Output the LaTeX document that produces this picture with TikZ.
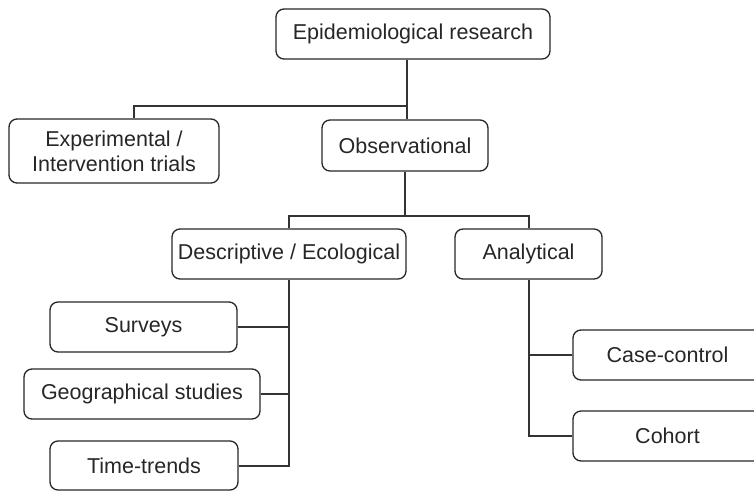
\documentclass[tikz,border=0pt]{standalone}
\usepackage{fontspec}
\setmainfont{Liberation Sans}
\begin{document}
\begin{tikzpicture}[x=1pt,y=-1pt,
  box/.style={draw=black!85, line width=1.3pt, rounded corners=8pt, align=center,
    text=black!85, inner sep=0pt, font=\fontsize{21.5}{25}\selectfont},
  link/.style={draw=black!80, line width=1.3pt}]
\useasboundingbox (0,0) rectangle (754,490);
\clip (0,0) rectangle (754,490);
\node[box, minimum width=274pt, minimum height=50pt] (epi) at (413,34) {Epidemiological research};
\node[box, minimum width=210pt, minimum height=64pt] (exp) at (114,151) {Experimental /\\Intervention trials};
\node[box, minimum width=166pt, minimum height=51pt] (obs) at (405,145.5) {Observational};
\node[box, minimum width=234pt, minimum height=50pt] (desc) at (289,254) {Descriptive / Ecological};
\node[box, minimum width=147pt, minimum height=50pt] (ana) at (528.5,254) {Analytical};
\node[box, minimum width=187pt, minimum height=50pt] (surv) at (143.5,327) {Surveys};
\node[box, minimum width=236pt, minimum height=50pt] (geo) at (142,394) {Geographical studies};
\node[box, minimum width=188pt, minimum height=49pt] (time) at (144,465.5) {Time-trends};
\node[box, minimum width=189pt, minimum height=50pt] (case) at (667.5,355) {Case-control};
\node[box, minimum width=189pt, minimum height=50pt] (coh) at (667.5,436) {Cohort};
\coordinate (j1) at (407,106);
\coordinate (j1l) at (134,106);
\coordinate (j2) at (405,216);
\coordinate (j2l) at (289,216);
\coordinate (j2r) at (529,216);
\coordinate (j3) at (289,466);
\coordinate (j4) at (529,436);
\draw[link] (epi.south -| j1) -- (j1) -- (j1l) -- (j1l |- exp.north);
\draw[link] (j1) -- (j1 |- obs.north);
\draw[link] (obs.south -| j2) -- (j2);
\draw[link] (j2l |- desc.north) -- (j2l) -- (j2r) -- (j2r |- ana.north);
\draw[link] (desc.south -| j3) -- (j3) -- (time.east |- j3);
\draw[link] (surv.east) -- (surv.east -| j3);
\draw[link] (geo.east) -- (geo.east -| j3);
\draw[link] (ana.south -| j4) -- (j4) -- (coh.west |- j4);
\draw[link] (case.west) -- (case.west -| j4);
\end{tikzpicture}
\end{document}
